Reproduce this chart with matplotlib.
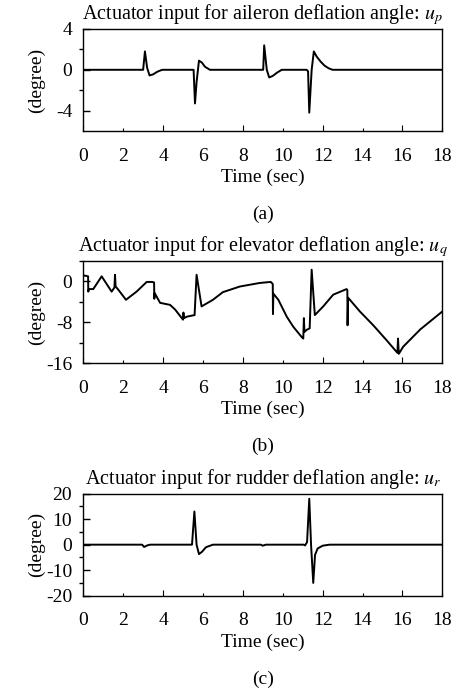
import matplotlib
matplotlib.use("Agg")
import matplotlib.pyplot as plt
import numpy as np

plt.rcParams["font.family"] = ["Liberation Serif", "DejaVu Serif"]
plt.rcParams["mathtext.fontset"] = "stix"
plt.rcParams["axes.unicode_minus"] = False

# (a) aileron actuator input
t_a = [0, 3.0, 3.09, 3.2, 3.32, 3.5, 3.7, 3.95, 5.53, 5.6, 5.68, 5.8, 5.95,
       6.1, 6.35, 9.02, 9.07, 9.2, 9.32, 9.5, 9.7, 9.95, 11.2, 11.27, 11.33,
       11.45, 11.56, 11.7, 11.9, 12.1, 12.3, 12.5, 18]
u_p = [0, 0, 1.8, 0.2, -0.55, -0.45, -0.2, 0, 0, -3.3, -1.2, 0.9, 0.7,
       0.3, 0, 0, 2.4, 0.0, -0.75, -0.6, -0.3, 0, 0, -0.15, -4.2,
       0, 1.8, 1.3, 0.8, 0.4, 0.15, 0, 0]

# (b) elevator actuator input
t_b = [0.0, 0.24, 0.25, 0.28, 0.5, 0.92, 1.42, 1.56, 1.59, 1.62, 1.75, 2.14,
       2.67, 3.18, 3.45, 3.55, 3.56, 3.58, 3.85, 4.35, 4.6, 5.0, 5.02, 5.05,
       5.2, 5.58, 5.68, 5.93, 6.5, 7.0, 7.85, 8.85, 9.4, 9.5, 9.51, 9.53,
       9.78, 10.2, 10.53, 10.95, 11.03, 11.06, 11.09, 11.2, 11.35, 11.45,
       11.61, 12.03, 12.53, 13.2, 13.24, 13.25, 13.28, 13.87, 14.54, 15.2,
       15.75, 15.78, 15.82, 16.04, 16.9, 18.0]
u_q = [1.2, 1.0, -2.0, -1.5, -1.5, 1.0, -2.0, -1.2, 1.3, -1.0, -1.6, -3.6,
       -2.0, -0.1, -0.1, -0.2, -3.4, -2.3, -4.2, -4.6, -5.5, -7.5, -6.1, -7.2,
       -6.9, -6.6, 1.3, -4.9, -3.6, -2.1, -1.0, -0.3, -0.1, -0.5, -6.4, -2.4,
       -3.6, -6.9, -8.9, -10.9, -11.2, -7.2, -9.9, -9.5, -9.2, 2.3,
       -6.6, -4.9, -2.6, -1.5, -1.7, -8.6, -3.2, -5.9, -8.6, -11.5,
       -14.0, -11.2, -14.2, -12.8, -9.4, -5.9]

# (c) rudder actuator input
t_c = [0, 2.95, 3.05, 3.2, 3.35, 5.45, 5.57, 5.68, 5.8, 5.95, 6.15, 6.5,
       8.9, 9.0, 9.15, 11.05, 11.12, 11.22, 11.33, 11.42, 11.53, 11.62,
       11.75, 12.0, 12.35, 18]
u_r = [0, 0, -0.9, -0.3, 0, 0, 13, 0, -3.7, -2.8, -1.0, 0,
       0, -0.4, 0, 0, -0.3, 1, 18, 0, -15, -4,
       -1.5, -0.4, 0, 0]

panels = [
    (t_a, u_p, "Actuator input for aileron deflation angle: $u_p$", (-6, 4),
     [4, 0, -4], [2, -2], "(a)", 0.8107),
    (t_b, u_q, "Actuator input for elevator deflation angle: $u_q$", (-16, 4),
     [0, -8, -16], [4, -4, -12], "(b)", 0.4754),
    (t_c, u_r, "Actuator input for rudder deflation angle: $u_r$", (-20, 20),
     [20, 10, 0, -10, -20], [15, 5, -5, -15], "(c)", 0.1392),
]

fig = plt.figure(figsize=(4.61, 6.92), dpi=100)

for t, u, title, ylim, yt, ymin, tag, bottom in panels:
    ax = fig.add_axes([0.1807, bottom, 0.7787, 0.1474])
    ax.plot(t, u, color="black", lw=1.4)
    ax.set_xlim(0, 18)
    ax.set_ylim(*ylim)
    ax.set_xticks(np.arange(0, 19, 2))
    ax.set_yticks(yt)
    ax.set_yticks(ymin, minor=True)
    ax.tick_params(direction="in", labelsize=14, top=False, right=False)
    ax.tick_params(axis="x", pad=12)
    ax.tick_params(axis="y", which="major", length=5, width=1, pad=8)
    ax.tick_params(axis="y", which="minor", length=3, width=1)
    for tk, pos in zip(ax.xaxis.get_major_ticks(), np.arange(0, 19, 2)):
        tk.tick1line.set_markersize(4 if pos % 4 == 0 else 2.5)
    for sp in ax.spines.values():
        sp.set_linewidth(1.0)
    ax.set_title(title, fontsize=14.5, pad=7)
    ax.set_ylabel("(degree)", fontsize=14)
    ax.yaxis.set_label_coords(-0.107, 0.5)
    ax.set_xlabel("Time (sec)", fontsize=14)
    ax.xaxis.set_label_coords(0.5, -0.37)
    ax.text(0.5, -0.82, tag, transform=ax.transAxes, ha="center",
            va="center", fontsize=14)

fig.savefig("out.png", dpi=100)
